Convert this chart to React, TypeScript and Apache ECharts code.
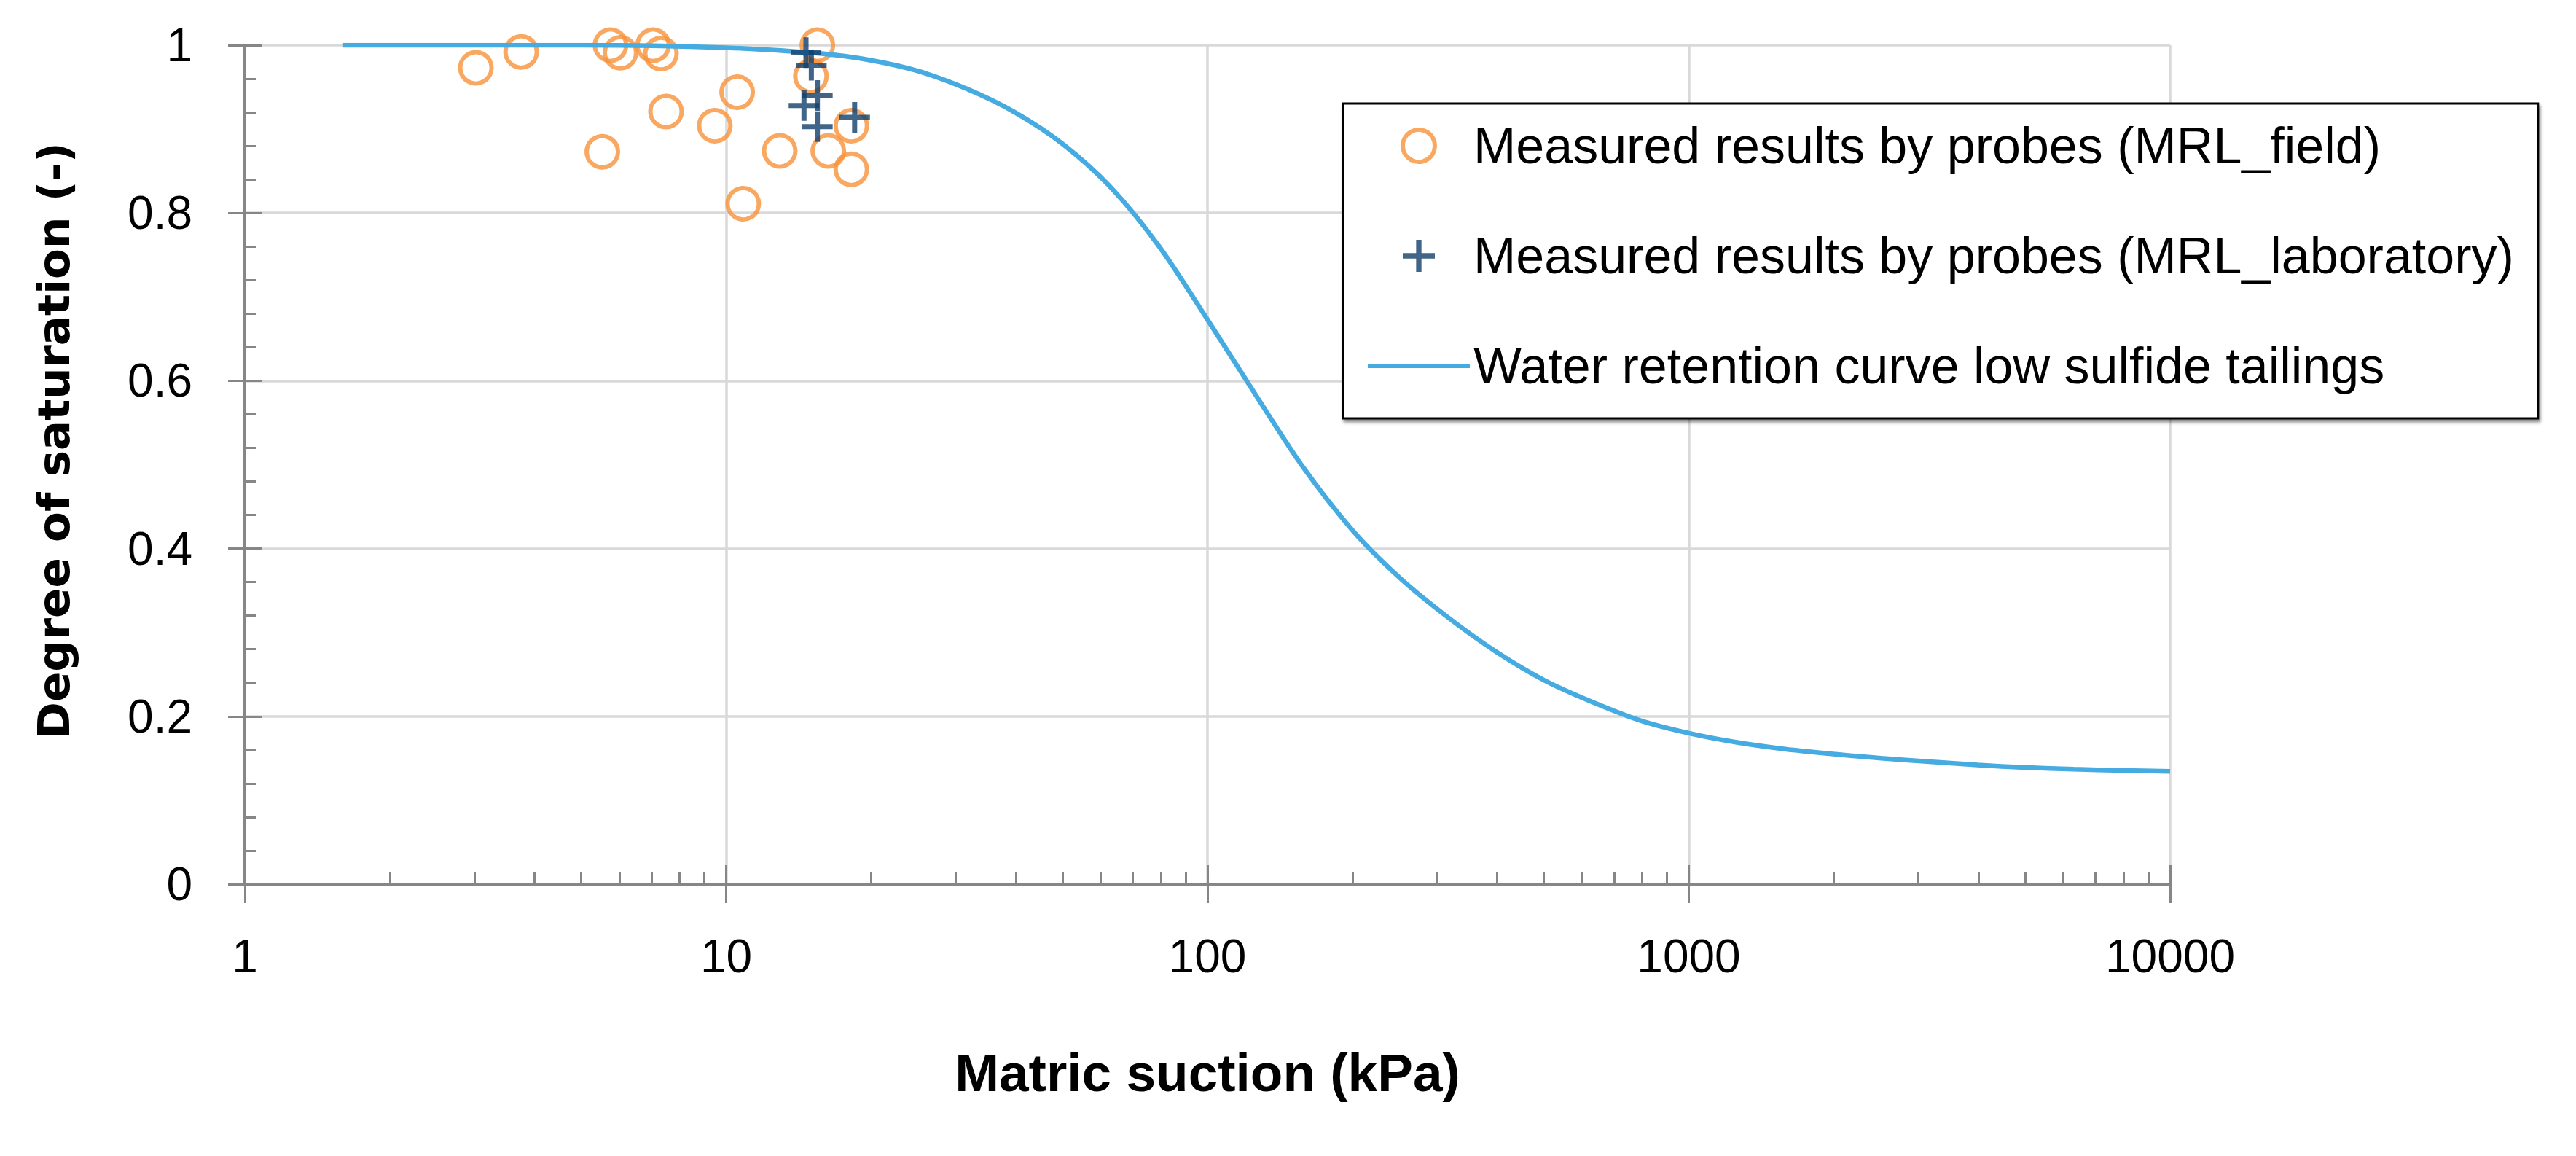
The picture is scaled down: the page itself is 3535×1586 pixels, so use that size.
import React, { useEffect, useRef } from 'react';
import * as echarts from 'echarts';

// measured field data (kPa, -)
const fieldSuction = [3.02, 3.75, 5.75, 6.03, 7.05, 7.32, 7.5, 5.53, 9.47, 10.54, 10.85, 12.92, 15.47, 15.0, 16.3, 18.2, 18.2];
const fieldSaturation = [0.973, 0.992, 1.0, 0.991, 1.0, 0.99, 0.921, 0.873, 0.904, 0.944, 0.811, 0.874, 1.0, 0.963, 0.874, 0.904, 0.852];

// measured laboratory data
const labSuction = [14.65, 15.03, 15.47, 14.51, 15.47, 18.49];
const labSaturation = [0.991, 0.976, 0.94, 0.928, 0.903, 0.914];

// water retention curve
const curveSuction = [1.6, 5, 10, 15.8, 20, 25.1, 31.6, 39.8, 50.1, 63.1, 79.4, 100, 126, 158, 200, 251, 316, 398, 501, 631, 794, 1000, 1259, 1585, 2000, 2512, 3162, 3981, 5012, 6310, 7943, 10000];
const curveSaturation = [1.0, 1.0, 0.997, 0.99, 0.982, 0.969, 0.948, 0.92, 0.882, 0.83, 0.76, 0.673, 0.583, 0.497, 0.422, 0.365, 0.318, 0.277, 0.243, 0.217, 0.195, 0.18, 0.169, 0.161, 0.155, 0.15, 0.146, 0.142, 0.139, 0.137, 0.1355, 0.1345];

// minor ticks of the log axis
const minorTicks = [2, 3, 4, 5, 6, 7, 8, 9, 20, 30, 40, 50, 60, 70, 80, 90, 200, 300, 400, 500, 600, 700, 800, 900, 2000, 3000, 4000, 5000, 6000, 7000, 8000, 9000];

const FONT = '"Liberation Sans", Arial, sans-serif';
const AXIS_COLOR = '#868686';
const GRID_COLOR = '#d9d9d9';
const ORANGE = '#f7923a';
const NAVY = '#123e6b';
const BLUE = '#45abe0';
const PLUS = 'path://M10,0H14V10H24V14H14V24H10V14H0V10H10Z';
const LINE_ICON = 'path://M0,0H140V6H0Z';

const NAMES = [
  'Measured results by probes (MRL_field)',
  'Measured results by probes (MRL_laboratory)',
  'Water retention curve low sulfide tailings',
];

const App = () => {
  const chartRef = useRef(null);

  useEffect(() => {
    document.body.style.margin = '0';
    const myChart = echarts.init(chartRef.current, null, { renderer: 'svg' });

    const tickLine = { color: AXIS_COLOR, width: 3 };
    const hidden = { show: false };

    const option = {
      animation: false,
      backgroundColor: '#fff',
      grid: { left: 336, top: 62, width: 2642, height: 1151, outerBoundsMode: 'none' },
      legend: {
        orient: 'vertical',
        left: 1843,
        top: 142,
        padding: [18, 33, 32, 34],
        itemGap: 71,
        itemWidth: 140,
        itemHeight: 44,
        backgroundColor: '#fff',
        borderColor: '#000',
        borderWidth: 3,
        borderRadius: 0,
        shadowColor: 'rgba(0,0,0,0.45)',
        shadowBlur: 4,
        shadowOffsetX: 2,
        shadowOffsetY: 4,
        textStyle: { fontFamily: FONT, fontSize: 70, lineHeight: 80, color: '#000' },
        data: [
          { name: NAMES[0], itemStyle: { color: 'rgba(255,255,255,0)', borderColor: ORANGE, borderWidth: 6 } },
          { name: NAMES[1] },
          { name: NAMES[2], icon: LINE_ICON, itemStyle: { color: BLUE } },
        ],
      },
      xAxis: [
        {
          type: 'log',
          logBase: 10,
          min: 1,
          max: 10000,
          position: 'bottom',
          name: 'Matric suction (kPa)',
          nameLocation: 'middle',
          nameGap: 222,
          nameTextStyle: { fontFamily: FONT, fontSize: 73, fontWeight: 'bold', color: '#000' },
          axisLine: { show: true, onZero: false, lineStyle: { color: AXIS_COLOR, width: 4 } },
          axisTick: { show: true, inside: false, length: 26, lineStyle: tickLine },
          axisLabel: {
            margin: 67,
            fontFamily: FONT,
            fontSize: 64,
            color: '#000',
            formatter: (v) => String(v),
          },
          splitLine: { show: true, lineStyle: { color: GRID_COLOR, width: 3.5 } },
        },
        {
          type: 'log',
          logBase: 10,
          min: 1,
          max: 10000,
          position: 'bottom',
          axisLine: { show: false, onZero: false },
          axisTick: { show: true, inside: true, length: 26, lineStyle: tickLine },
          axisLabel: hidden,
          splitLine: hidden,
        },
        {
          type: 'value',
          min: 0,
          max: 4,
          position: 'bottom',
          axisLine: { show: false, onZero: false },
          axisTick: {
            show: true,
            inside: true,
            length: 17,
            lineStyle: tickLine,
            customValues: minorTicks.map((t) => Math.log10(t)),
          },
          axisLabel: hidden,
          splitLine: hidden,
        },
      ],
      yAxis: [
        {
          type: 'value',
          min: 0,
          max: 1,
          interval: 0.2,
          position: 'left',
          name: 'Degree of saturation (-)',
          nameLocation: 'middle',
          nameGap: 232,
          nameRotate: 90,
          nameTextStyle: {
            fontFamily: '"DejaVu Sans", Verdana, sans-serif',
            fontSize: 61,
            fontWeight: 'bold',
            color: '#000',
            padding: [0, 0, 0, 66],
          },
          axisLine: { show: true, onZero: false, lineStyle: { color: AXIS_COLOR, width: 4 } },
          axisTick: { show: true, inside: false, length: 23, lineStyle: tickLine },
          axisLabel: { margin: 72, fontFamily: FONT, fontSize: 64, color: '#000' },
          splitLine: { show: true, lineStyle: { color: GRID_COLOR, width: 3.5 } },
        },
        {
          type: 'value',
          min: 0,
          max: 1,
          interval: 0.2,
          position: 'left',
          axisLine: { show: false, onZero: false },
          axisTick: { show: true, inside: true, length: 23, lineStyle: tickLine },
          minorTick: { show: true, splitNumber: 5, length: 15, lineStyle: tickLine },
          axisLabel: hidden,
          splitLine: hidden,
        },
      ],
      series: [
        {
          name: NAMES[0],
          type: 'scatter',
          z: 2,
          symbol: 'circle',
          symbolSize: 43,
          itemStyle: { color: 'rgba(255,255,255,0)', borderColor: ORANGE, borderWidth: 6 },
          data: fieldSuction.map((x, i) => [x, fieldSaturation[i]]),
        },
        {
          name: NAMES[1],
          type: 'scatter',
          z: 4,
          symbol: PLUS,
          symbolSize: 42,
          itemStyle: { color: NAVY },
          data: labSuction.map((x, i) => [x, labSaturation[i]]),
        },
        {
          name: NAMES[2],
          type: 'line',
          z: 3,
          smooth: 0.3,
          symbol: 'none',
          showSymbol: false,
          lineStyle: { color: BLUE, width: 6.5 },
          itemStyle: { color: BLUE },
          data: curveSuction.map((x, i) => [x, curveSaturation[i]]),
        },
      ],
    };

    myChart.setOption(option);

    return () => {
      myChart.dispose();
    };
  }, []);

  return <div ref={chartRef} style={{ width: '3535px', height: '1586px' }} />;
};

export default App;
